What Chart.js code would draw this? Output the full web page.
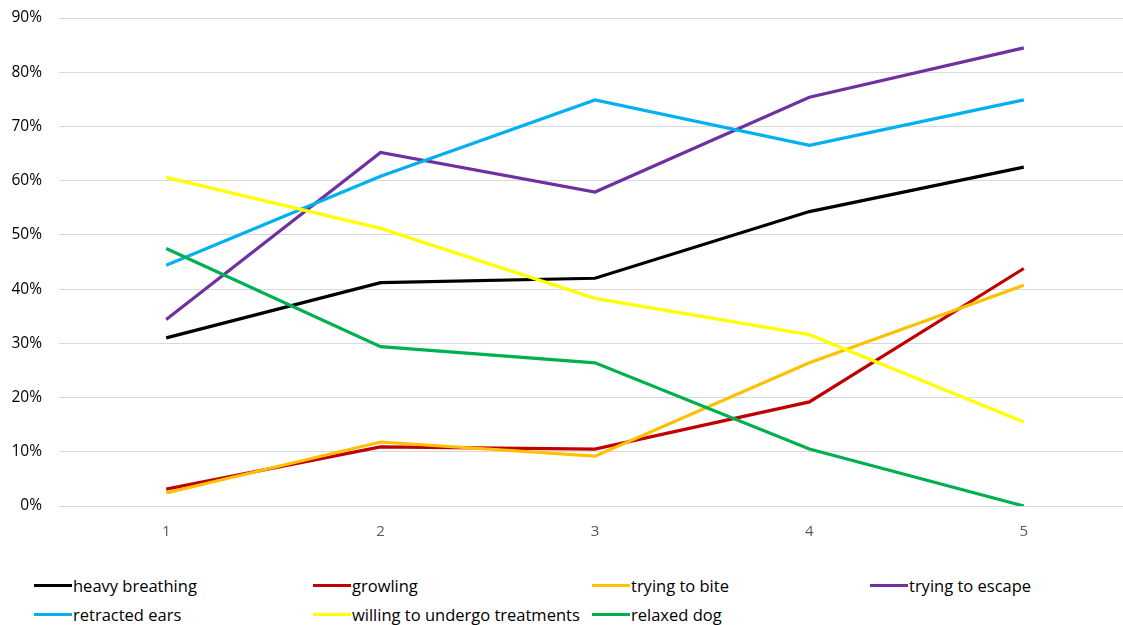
<!DOCTYPE html>
<html>
<head>
<meta charset="utf-8">
<script src="https://cdn.jsdelivr.net/npm/chart.js@4"></script>
<style>
  html, body { margin: 0; padding: 0; background: #fff; overflow: hidden; }
  #wrap { position: relative; width: 1123px; height: 625px; overflow: hidden; }
  #chart { position: absolute; left: 0; top: 0; }
  #legend {
    position: absolute; left: 34px; top: 571px;
    display: grid; grid-template-columns: 279px 279px 278px 250px; grid-auto-rows: 29px;
    font-family: "Open Sans", sans-serif; font-size: 16.5px; color: #000;
  }
  .item { display: flex; align-items: center; white-space: nowrap; }
  .swatch { width: 38px; height: 3px; margin-right: 1px; }
</style>
</head>
<body>
<div id="wrap">
  <canvas id="chart" width="1131" height="560"></canvas>
  <div id="legend"></div>
</div>
<script>
const categories = ['1', '2', '3', '4', '5'];

const heavyBreathing = [31.0, 41.2, 42.0, 54.3, 62.5];
const growling = [3.1, 10.9, 10.5, 19.2, 43.8];
const tryingToBite = [2.4, 11.8, 9.2, 26.4, 40.7];
const tryingToEscape = [34.4, 65.2, 57.9, 75.4, 84.5];
const retractedEars = [44.4, 60.8, 74.9, 66.5, 74.9];
const willingToUndergo = [60.6, 51.2, 38.3, 31.6, 15.5];
const relaxedDog = [47.5, 29.4, 26.4, 10.5, 0];

const seriesNames = ['heavy breathing', 'growling', 'trying to bite', 'trying to escape',
  'retracted ears', 'willing to undergo treatments', 'relaxed dog'];
const seriesColors = ['#000000', '#C00000', '#FFC000', '#7030A0', '#00B0F0', '#FFFF00', '#00B050'];
const seriesValues = [heavyBreathing, growling, tryingToBite, tryingToEscape,
  retractedEars, willingToUndergo, relaxedDog];

const yTicks = [0, 10, 20, 30, 40, 50, 60, 70, 80, 90];

const datasets = seriesNames.map((name, i) => ({
  label: name,
  data: seriesValues[i],
  borderColor: seriesColors[i],
  backgroundColor: seriesColors[i],
  borderWidth: 3.2,
  pointRadius: 0,
  tension: 0,
  order: seriesNames.length - i
}));

const ctx = document.getElementById('chart').getContext('2d');
const chart = new Chart(ctx, {
  type: 'line',
  data: { labels: categories, datasets: datasets },
  options: {
    responsive: false,
    animation: false,
    layout: { padding: { top: 18, right: 0, bottom: 9, left: 0 } },
    plugins: { legend: { display: false }, tooltip: { enabled: false } },
    scales: {
      x: {
        offset: true,
        grid: { display: false, drawTicks: false },
        border: { display: false },
        ticks: { color: '#595959', padding: 17, font: { family: 'Open Sans', size: 15 } },
        afterFit: (s) => { s.height = 45; }
      },
      y: {
        min: 0,
        max: 90,
        afterBuildTicks: (s) => { s.ticks = yTicks.map(v => ({ value: v })); },
        grid: { color: '#d9d9d9', lineWidth: 1, drawTicks: false },
        border: { display: false },
        ticks: {
          color: '#000',
          padding: 17,
          font: { family: 'Open Sans', size: 15.5 },
          callback: (v) => v + '%'
        },
        afterFit: (s) => { s.width = 59; s.paddingTop = 0; s.paddingBottom = 0; }
      }
    }
  }
});

const legend = document.getElementById('legend');
chart.data.datasets.forEach((ds) => {
  const item = document.createElement('div');
  item.className = 'item';
  const sw = document.createElement('span');
  sw.className = 'swatch';
  sw.style.background = ds.borderColor;
  const txt = document.createElement('span');
  txt.textContent = ds.label;
  item.appendChild(sw);
  item.appendChild(txt);
  legend.appendChild(item);
});
</script>
</body>
</html>
